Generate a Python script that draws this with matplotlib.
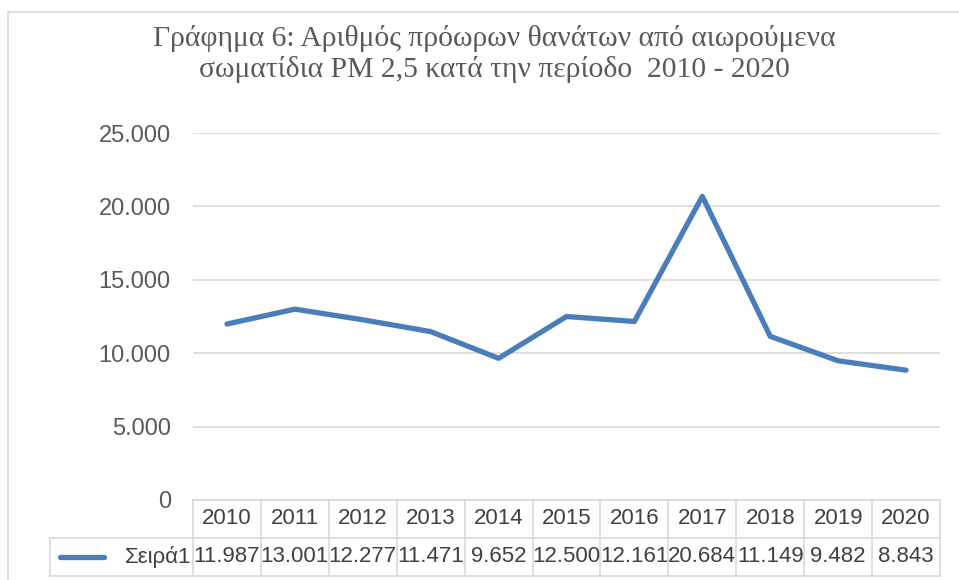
import matplotlib.pyplot as plt
from matplotlib.lines import Line2D
from matplotlib.transforms import blended_transform_factory

years = ["2010", "2011", "2012", "2013", "2014", "2015",
         "2016", "2017", "2018", "2019", "2020"]
deaths = [11987, 13001, 12277, 11471, 9652, 12500,
          12161, 20684, 11149, 9482, 8843]
series_name = "Σειρά1"
title = ("Γράφημα 6: Αριθμός πρόωρων θανάτων από αιωρούμενα\n"
         "σωματίδια PM 2,5 κατά την περίοδο  2010 - 2020")
y_ticks = [0, 5000, 10000, 15000, 20000, 25000]


def fmt(v):
    return f"{v:,}".replace(",", ".")


W, H = 959, 580
LINE_C = "#4a7ebb"
GRID_C = "#d9d9d9"
TXT_C = "#595959"
TAB_TXT = "#404040"
sans = ["Liberation Sans Narrow", "Liberation Sans", "DejaVu Sans"]

fig = plt.figure(figsize=(W / 100, H / 100), dpi=100)

# chart frame (runs off the right/bottom edge like the screenshot)
fig.add_artist(Line2D([8 / W, 1], [1 - 12 / H] * 2, color=GRID_C, lw=1.2))
fig.add_artist(Line2D([8 / W] * 2, [0, 1 - 12 / H], color=GRID_C, lw=1.2))

# plot area in pixel coordinates
x0, x1, y_top, y_bot = 193, 940, 133, 500
ax = fig.add_axes([x0 / W, 1 - y_bot / H, (x1 - x0) / W, (y_bot - y_top) / H])
n = len(years)
ax.set_xlim(-0.5, n - 0.5)
ax.set_ylim(0, 25000)

ax.plot(range(n), deaths, color=LINE_C, lw=3.8, solid_capstyle="round",
        solid_joinstyle="round", zorder=3)

ax.set_yticks(y_ticks)
ax.set_yticklabels([fmt(v) for v in y_ticks], family=sans, fontsize=17,
                   color=TXT_C)
ax.tick_params(axis="y", length=0, pad=16)
ax.set_xticks([])
ax.grid(axis="y", color=GRID_C, lw=1.2)
ax.set_axisbelow(True)
for s in ax.spines.values():
    s.set_visible(False)

# data table under the axis
row_h = 38 / (y_bot - y_top)
tr = blended_transform_factory(ax.transData, ax.transAxes)
legend_left = -0.5 - (x0 - 50) / ((x1 - x0) / n)

kw = dict(transform=tr, color=GRID_C, lw=1.2, clip_on=False)
ax.plot([-0.5, n - 0.5], [0, 0], **kw)
ax.plot([legend_left, n - 0.5], [-row_h, -row_h], **kw)
ax.plot([legend_left, n - 0.5], [-2 * row_h, -2 * row_h], **kw)
ax.plot([legend_left, legend_left], [-row_h, -2 * row_h], **kw)
for i in range(n + 1):
    ax.plot([i - 0.5, i - 0.5], [0, -2 * row_h], **kw)

for i, (yr, v) in enumerate(zip(years, deaths)):
    ax.text(i, -0.5 * row_h, yr, transform=tr, ha="center", va="center",
            family=sans, fontsize=16, color=TAB_TXT)
    ax.text(i, -1.5 * row_h, fmt(v), transform=tr, ha="center", va="center",
            family=sans, fontsize=16, color=TAB_TXT)

# legend key inside the table
ax.plot([legend_left + 0.15, legend_left + 0.8], [-1.5 * row_h] * 2,
        transform=tr, color=LINE_C, lw=3.8, clip_on=False,
        solid_capstyle="round")
ax.text(-0.53, -1.5 * row_h, series_name, transform=tr, ha="right",
        va="center", family=sans, fontsize=16, color=TAB_TXT)

fig.text(494 / W, 1 - 54 / H, title, ha="center", va="center",
         family=["Liberation Serif", "DejaVu Serif"], fontsize=21.3,
         color=TXT_C, linespacing=1.2)

fig.savefig("out.png", dpi=100)
